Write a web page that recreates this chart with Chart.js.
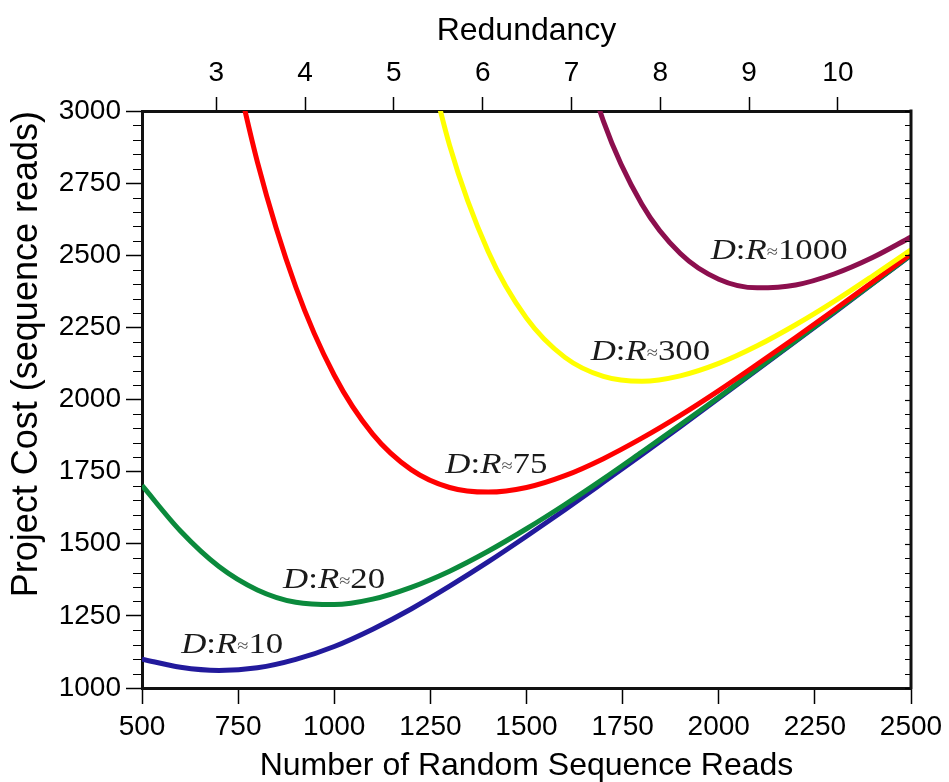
<!DOCTYPE html>
<html>
<head>
<meta charset="utf-8">
<script src="https://cdn.jsdelivr.net/npm/chart.js@4/dist/chart.umd.min.js"></script>
<style>
  html, body { margin: 0; padding: 0; background: #fff; }
  #wrap { width: 949px; height: 782px; }
</style>
</head>
<body>
<div id="wrap"><canvas id="c" width="949" height="782"></canvas></div>
<script>
// ---- data ----
const reads = [500, 600, 700, 800, 900, 1000, 1100, 1200, 1300, 1400, 1500,
               1600, 1700, 1800, 1900, 2000, 2100, 2200, 2300, 2400, 2500];

const costDR10   = [1100, 1072, 1061, 1070, 1099, 1144, 1204, 1274, 1353, 1437, 1526,
                    1618, 1713, 1809, 1906, 2004, 2103, 2202, 2301, 2401, 2500];
const costDR20   = [1702, 1544, 1421, 1340, 1297, 1289, 1308, 1349, 1405, 1474, 1552,
                    1636, 1725, 1818, 1912, 2008, 2106, 2204, 2303, 2402, 2501];
const costDR75   = [null, null, 3405, 2824, 2390, 2084, 1880, 1757, 1695, 1679, 1695,
                    1736, 1795, 1866, 1945, 2031, 2122, 2215, 2310, 2407, 2505];
const costDR300  = [null, null, null, null, null, null, null, 3429, 2881, 2514, 2282,
                    2146, 2080, 2063, 2082, 2125, 2186, 2259, 2340, 2428, 2519];
const costDR1000 = [null, null, null, null, null, null, null, null, null, null, null,
                    3419, 2965, 2677, 2506, 2417, 2387, 2397, 2435, 2492, 2563];

const ratioNames = ['1000', '300', '75', '20', '10'];
const readsPerRedundancy = 231;
const redundancyTicks = [3, 4, 5, 6, 7, 8, 9, 10];
const costMajorStep = 250;
const costMinorStep = 50;

// label anchors (data coordinates) for the D:R captions
const labelReads = [1979, 1667, 1289, 867, 602];
const labelCosts = [2487, 2137, 1745, 1347, 1121];

// ---- styling ----
const seriesColors = ['#8c0f4e', '#ffff00', '#ff0000', '#0b8a3c', '#221a9c'];
const seriesCosts = [costDR1000, costDR300, costDR75, costDR20, costDR10];

const datasets = seriesCosts.map((arr, i) => ({
  label: 'D:R=' + ratioNames[i],
  data: reads.map((r, j) => ({ x: r, y: arr[j] })),
  borderColor: seriesColors[i],
  backgroundColor: seriesColors[i],
  borderWidth: 5,
  pointRadius: 0,
  cubicInterpolationMode: 'monotone',
  spanGaps: false,
  clip: 0,
  fill: false
}));

const SANS = '"Liberation Sans", Arial, Helvetica, sans-serif';
const SERIF = '"Liberation Serif", "Times New Roman", serif';
const plain = v => String(v);

const extrasPlugin = {
  id: 'extras',
  afterDatasetsDraw(chart) {
    const { ctx, chartArea: a, scales } = chart;
    const y = scales.y, x = scales.x;
    ctx.save();
    // minor ticks on left (outside) and right (inside)
    ctx.strokeStyle = '#000';
    ctx.lineWidth = 1.2;
    for (let v = y.min; v <= y.max + 1e-6; v += costMinorStep) {
      const py = Math.round(y.getPixelForValue(v)) + 0.5;
      ctx.beginPath();
      if (v % costMajorStep !== 0) {
        ctx.moveTo(a.left - 1, py); ctx.lineTo(a.left - 9, py);
      }
      ctx.moveTo(a.right - 1, py); ctx.lineTo(a.right - 6, py);
      ctx.stroke();
    }
    // right frame line
    ctx.lineWidth = 3;
    ctx.strokeStyle = '#111';
    ctx.beginPath();
    ctx.moveTo(a.right, a.top - 1.5); ctx.lineTo(a.right, a.bottom + 1.5);
    ctx.stroke();

    // D:R captions
    ctx.fillStyle = '#1a1a1a';
    ctx.textBaseline = 'alphabetic';
    ctx.textAlign = 'left';
    for (let i = 0; i < ratioNames.length; i++) {
      const px = x.getPixelForValue(labelReads[i]);
      const py = y.getPixelForValue(labelCosts[i]);
      ctx.save();
      ctx.translate(px, py);
      ctx.scale(1.2, 1);
      let cx = 0;
      ctx.font = 'italic 29px ' + SERIF;
      ctx.fillText('D', cx, 0); cx += ctx.measureText('D').width;
      ctx.font = '29px ' + SERIF;
      ctx.fillText(':', cx, 0); cx += ctx.measureText(':').width;
      ctx.font = 'italic 29px ' + SERIF;
      ctx.fillText('R', cx, 0); cx += ctx.measureText('R').width;
      ctx.font = '17px ' + SERIF;
      ctx.fillStyle = '#555';
      ctx.fillText('\u2248', cx, -2); cx += ctx.measureText('\u2248').width;
      ctx.fillStyle = '#1a1a1a';
      ctx.font = '29px ' + SERIF;
      ctx.fillText(ratioNames[i], cx, 0);
      ctx.restore();
    }
    ctx.restore();
  }
};

new Chart(document.getElementById('c'), {
  type: 'line',
  data: { datasets },
  options: {
    responsive: false,
    animation: false,
    events: [],
    layout: { padding: { left: 0, right: 38, top: 0, bottom: 0 } },
    plugins: { legend: { display: false }, tooltip: { enabled: false }, title: { display: false } },
    scales: {
      x: {
        type: 'linear', position: 'bottom', min: 500, max: 2500,
        afterFit: s => { s.height = 94; },
        ticks: { stepSize: costMajorStep, color: '#000', padding: 6, maxRotation: 0, callback: plain,
                 font: { family: SANS, size: 28 } },
        grid: { drawOnChartArea: false, drawTicks: true, tickLength: 16, color: '#000', tickWidth: 1.5 },
        border: { display: true, color: '#111', width: 3 },
        title: { display: true, text: 'Number of Random Sequence Reads', color: '#000',
                 font: { family: SANS, size: 32, lineHeight: 1 }, padding: { top: 0, bottom: 0 } }
      },
      x2: {
        type: 'linear', axis: 'x', position: 'top',
        min: reads[0] / readsPerRedundancy, max: reads[reads.length - 1] / readsPerRedundancy,
        afterBuildTicks: s => { s.ticks = redundancyTicks.map(v => ({ value: v })); },
        afterFit: s => { s.height = 111; },
        ticks: { color: '#000', padding: 7, maxRotation: 0, autoSkip: false, callback: plain,
                 font: { family: SANS, size: 28 } },
        grid: { drawOnChartArea: false, drawTicks: true, tickLength: 14, color: '#000', tickWidth: 1.5 },
        border: { display: true, color: '#111', width: 3 },
        title: { display: true, text: 'Redundancy', color: '#000',
                 font: { family: SANS, size: 32, lineHeight: 1 }, padding: { top: 15, bottom: 0 } }
      },
      y: {
        type: 'linear', position: 'left', min: 1000, max: 3000,
        afterFit: s => { s.width = 142; },
        ticks: { stepSize: costMajorStep, color: '#000', padding: 5, callback: plain,
                 font: { family: SANS, size: 28 } },
        grid: { drawOnChartArea: false, drawTicks: true, tickLength: 16, color: '#000', tickWidth: 1.5 },
        border: { display: true, color: '#111', width: 3 },
        title: { display: true, text: 'Project Cost (sequence reads)', color: '#000', align: 'end',
                 font: { family: SANS, size: 36, lineHeight: 1 }, padding: { top: 9, bottom: 0 } }
      }
    }
  },
  plugins: [extrasPlugin]
});
</script>
</body>
</html>
